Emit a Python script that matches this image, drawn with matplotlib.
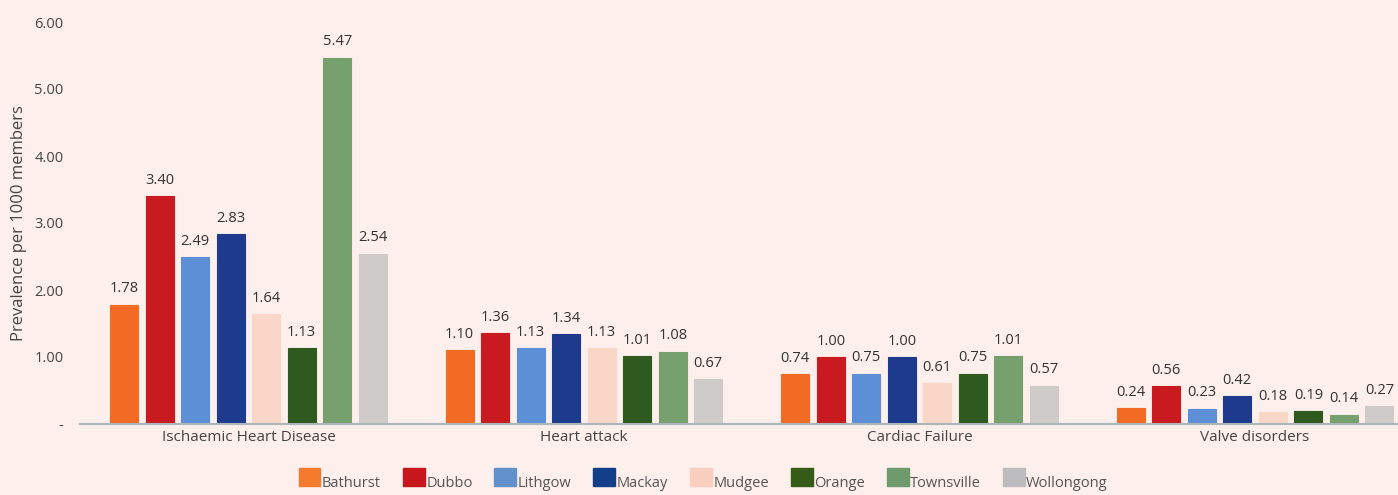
import matplotlib
matplotlib.use("Agg")
import matplotlib.pyplot as plt
import numpy as np
from matplotlib.patches import Patch
from matplotlib.transforms import ScaledTranslation

categories = ["Ischaemic Heart Disease", "Heart attack", "Cardiac Failure", "Valve disorders"]
series_names = ["Bathurst", "Dubbo", "Lithgow", "Mackay", "Mudgee", "Orange", "Townsville", "Wollongong"]
bathurst = [1.78, 1.10, 0.74, 0.24]
dubbo = [3.40, 1.36, 1.00, 0.56]
lithgow = [2.49, 1.13, 0.75, 0.23]
mackay = [2.83, 1.34, 1.00, 0.42]
mudgee = [1.64, 1.13, 0.61, 0.18]
orange = [1.13, 1.01, 0.75, 0.19]
townsville = [5.47, 1.08, 1.01, 0.14]
wollongong = [2.54, 0.67, 0.57, 0.27]
series_values = [bathurst, dubbo, lithgow, mackay, mudgee, orange, townsville, wollongong]
y_ticks = [0, 1, 2, 3, 4, 5, 6]
y_tick_labels = ["-", "1.00", "2.00", "3.00", "4.00", "5.00", "6.00"]

colors = ["#F26B24", "#C81A1F", "#5C8FD6", "#1E3A8C", "#FAD6C8", "#2F5A1F", "#76A06E", "#CFCBC8"]
legend_colors = ["#F47A2E", "#C8161D", "#6190CB", "#123E8A", "#FBCFBF", "#345B17", "#6F9A6E", "#BCBCBF"]

bg = "#FDEFEB"
text_color = "#444444"
plt.rcParams['font.family'] = ['Open Sans', 'DejaVu Sans']

W, H = 1398, 495
fig = plt.figure(figsize=(W / 100, H / 100), dpi=100, facecolor=bg)
ax = fig.add_axes([80 / W, (H - 424) / H, (W - 80) / W, (424 - 22) / H])
ax.set_facecolor(bg)

x = np.arange(len(categories))
pitch = 35.5 / 335.5
width = 28 / 335.5
n = len(series_names)
for i, (name, vals) in enumerate(zip(series_names, series_values)):
    offs = (i - (n - 1) / 2) * pitch
    bars = ax.bar(x + offs, vals, width, color=colors[i], edgecolor=colors[i],
                  linewidth=0.8, label=name, zorder=2)
    for b, v in zip(bars, vals):
        ax.annotate(f"{v:.2f}", (b.get_x() + b.get_width() / 2, v),
                    xytext=(0, 6), textcoords="offset points",
                    ha="center", va="bottom", fontsize=10.5, color="#333333")

ax.set_xlim(-0.502, 3.426)
ax.set_ylim(0, 6)
ax.set_xticks(x)
ax.set_xticklabels(categories, fontsize=11, color=text_color)
ax.set_yticks(y_ticks)
ax.set_yticklabels(y_tick_labels, fontsize=10.5, color=text_color)
ax.tick_params(axis="both", length=0)
ax.tick_params(axis="x", pad=4)
ax.tick_params(axis="y", pad=12)
for s in ["top", "right", "left"]:
    ax.spines[s].set_visible(False)
ax.spines["bottom"].set_color("#AAB6BA")
ax.spines["bottom"].set_linewidth(1.5)
ax.set_ylabel("Prevalence per 1000 members", fontsize=12, color=text_color)
ax.yaxis.set_label_coords(-53 / (W - 80), 0.5)

handles = [Patch(facecolor=c, edgecolor=c) for c in legend_colors]
leg = fig.legend(handles, series_names, loc="lower center", bbox_to_anchor=(0.503, -0.008),
                 ncol=8, frameon=False, fontsize=10.5, handlelength=1.5, handleheight=1.5,
                 handletextpad=0.1, columnspacing=1.5, labelcolor="#555555")
for t in leg.get_texts():
    t.set_transform(t.get_transform() + ScaledTranslation(0, -4 / 72, fig.dpi_scale_trans))

fig.savefig("out.png", dpi=100, facecolor=bg)
